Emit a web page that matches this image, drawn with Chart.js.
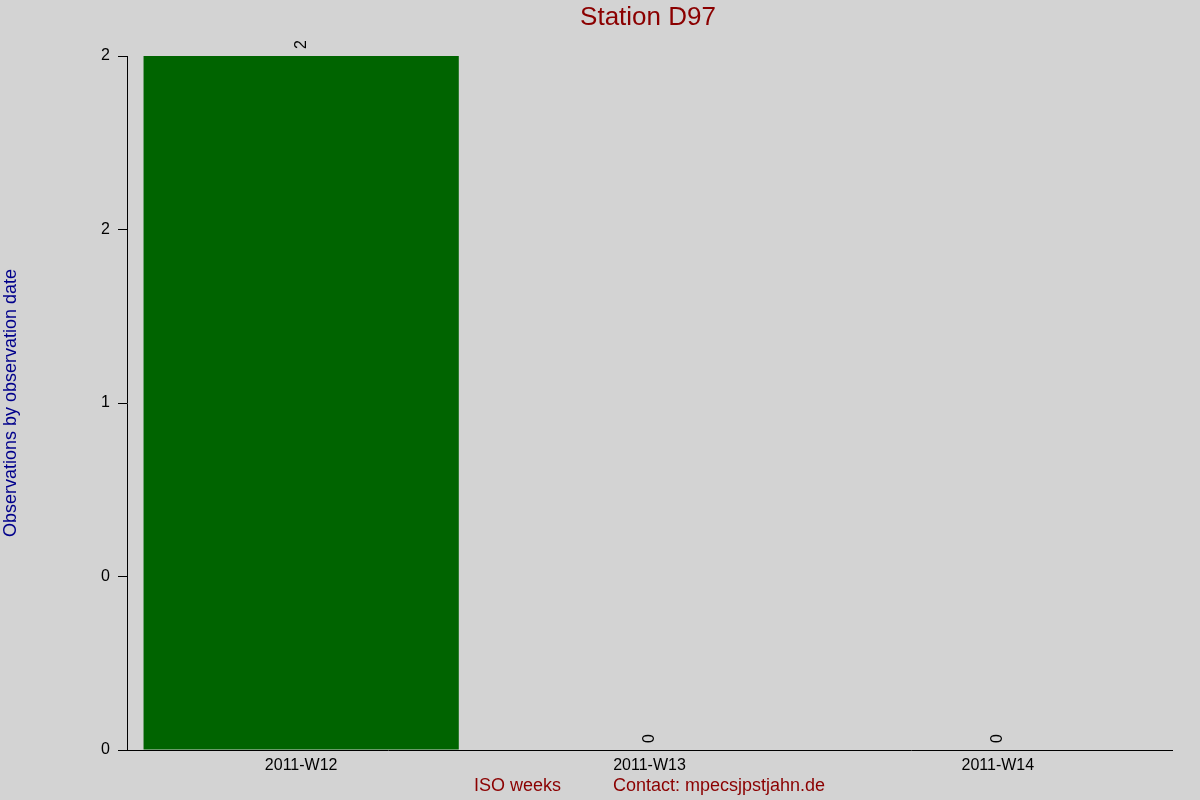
<!DOCTYPE html>
<html>
<head>
<meta charset="utf-8">
<script src="https://cdn.jsdelivr.net/npm/chart.js@4/dist/chart.umd.min.js"></script>
<style>
  html, body { margin: 0; padding: 0; background: #d3d3d3; }
  #wrap { width: 1200px; height: 800px; }
</style>
</head>
<body>
<div id="wrap"><canvas id="stationChart"></canvas></div>
<script>
const weeks = ['2011-W12', '2011-W13', '2011-W14'];
const observations = [2, 0, 0];
const yTickValues = [0, 0.5, 1, 1.5, 2];
const yTickLabels = ['0', '0', '1', '2', '2'];

const titleText = 'Station D97';
const yTitleText = 'Observations by observation date';
const xTitleText = 'ISO weeks';
const contactText = 'Contact: mpecsjpstjahn.de';

const FONT = 'Arial, "Liberation Sans", sans-serif';

// Titles and rotated value labels, drawn like the original plot
const decorations = {
    id: 'decorations',
    afterDatasetsDraw(chart) {
        const ctx = chart.ctx;
        const area = chart.chartArea;
        ctx.save();

        // value labels, rotated
        const meta = chart.getDatasetMeta(0);
        ctx.fillStyle = '#000';
        ctx.font = '16px ' + FONT;
        ctx.textAlign = 'left';
        ctx.textBaseline = 'middle';
        meta.data.forEach((bar, i) => {
            ctx.save();
            ctx.translate(bar.x, bar.y - 7);
            ctx.rotate(-Math.PI / 2);
            ctx.fillText(String(observations[i]), 0, 0);
            ctx.restore();
        });

        // main title
        ctx.fillStyle = '#8b0000';
        ctx.font = '26px ' + FONT;
        ctx.textAlign = 'center';
        ctx.textBaseline = 'middle';
        ctx.fillText(titleText, 648, 18);

        // y title
        ctx.save();
        ctx.fillStyle = '#00008b';
        ctx.font = '18px ' + FONT;
        ctx.translate(11, (area.top + area.bottom) / 2);
        ctx.rotate(-Math.PI / 2);
        ctx.fillText(yTitleText, 0, 0);
        ctx.restore();

        // x title and contact line
        ctx.fillStyle = '#8b0000';
        ctx.font = '18px ' + FONT;
        ctx.textAlign = 'left';
        ctx.fillText(xTitleText, 474, 786);
        ctx.fillText(contactText, 613, 786);

        ctx.restore();
    }
};

const ctx = document.getElementById('stationChart').getContext('2d');

new Chart(ctx, {
    type: 'bar',
    data: {
        labels: weeks,
        datasets: [{
            data: observations,
            backgroundColor: '#006400',
            borderWidth: 0,
            categoryPercentage: 1.0,
            barPercentage: 0.905
        }]
    },
    options: {
        responsive: true,
        maintainAspectRatio: false,
        animation: false,
        devicePixelRatio: 1,
        layout: { padding: { left: 0, top: 56, right: 28, bottom: 0 } },
        plugins: {
            legend: { display: false },
            tooltip: { enabled: false },
            title: { display: false }
        },
        scales: {
            x: {
                afterFit: (scale) => { scale.height = 50; },
                grid: { display: false, drawTicks: false },
                border: { display: true, color: '#000', width: 1 },
                ticks: {
                    color: '#000',
                    font: { family: FONT, size: 16 },
                    padding: 6,
                    maxRotation: 0
                }
            },
            y: {
                min: 0,
                max: 2,
                afterFit: (scale) => { scale.width = 127; },
                afterBuildTicks: (scale) => {
                    scale.ticks = yTickValues.map(v => ({ value: v }));
                },
                grid: {
                    drawOnChartArea: false,
                    drawTicks: true,
                    tickLength: 9,
                    color: '#000'
                },
                border: { display: true, color: '#000', width: 1 },
                ticks: {
                    color: '#000',
                    font: { family: FONT, size: 16 },
                    padding: 8,
                    callback: (value, index) => yTickLabels[index]
                }
            }
        }
    },
    plugins: [decorations]
});
</script>
</body>
</html>
